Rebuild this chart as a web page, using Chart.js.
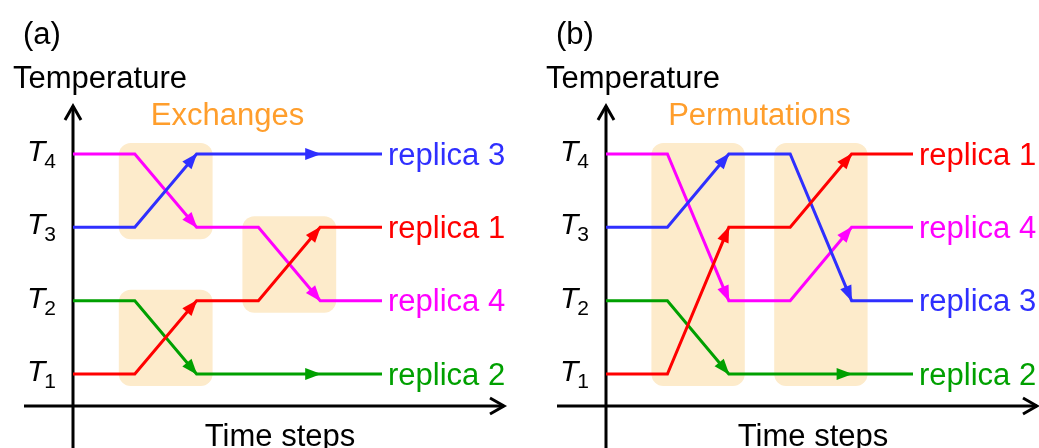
<!DOCTYPE html>
<html>
<head>
<meta charset="utf-8">
<script src="https://cdn.jsdelivr.net/npm/chart.js@4.4.1/dist/chart.umd.min.js"></script>
<style>
  html, body { margin: 0; padding: 0; background: #fff; }
  .row { display: flex; width: 1039px; height: 448px; }
  canvas { display: block; }
</style>
</head>
<body>
<div class="row">
  <canvas id="panelA" width="519" height="448"></canvas>
  <canvas id="panelB" width="520" height="448"></canvas>
</div>
<script>
const steps = [0, 1, 2, 3, 4, 5]
const levelNames = ['1', '2', '3', '4']

// temperature level held by each replica at every time step
const exchangeR1 = [1, 1, 2, 2, 3, 3]
const exchangeR2 = [2, 2, 1, 1, 1, 1]
const exchangeR3 = [3, 3, 4, 4, 4, 4]
const exchangeR4 = [4, 4, 3, 3, 2, 2]

const permuteR1 = [1, 1, 3, 3, 4, 4]
const permuteR2 = [2, 2, 1, 1, 1, 1]
const permuteR3 = [3, 3, 4, 4, 2, 2]
const permuteR4 = [4, 4, 2, 2, 3, 3]

// steps where an arrowhead marks the arrival
const arrowSteps = [2, 4]

// shaded swap windows: [fromStep, toStep, lowLevel, highLevel]
const exchangeBoxes = [[1, 2, 3, 4], [1, 2, 1, 2], [3, 4, 2, 3]]
const permuteBoxes = [[1, 2, 1, 4], [3, 4, 1, 4]]

const RED = '#ff0000'
const GREEN = '#00a000'
const BLUE = '#2f2fff'
const MAGENTA = '#ff00ff'
const ORANGE = '#ff9e2c'
const SHADE = '#fdebcb'
const FONT = '"Liberation Sans", Arial, sans-serif'

function roundRect(ctx, x, y, w, h, r) {
  ctx.beginPath()
  ctx.moveTo(x + r, y)
  ctx.arcTo(x + w, y, x + w, y + h, r)
  ctx.arcTo(x + w, y + h, x, y + h, r)
  ctx.arcTo(x, y + h, x, y, r)
  ctx.arcTo(x, y, x + w, y, r)
  ctx.closePath()
}

function arrowHead(ctx, fromX, fromY, toX, toY, color) {
  const ang = Math.atan2(toY - fromY, toX - fromX)
  const len = 15
  const half = 6
  ctx.save()
  ctx.translate(toX, toY)
  ctx.rotate(ang)
  ctx.fillStyle = color
  ctx.beginPath()
  ctx.moveTo(1, 0)
  ctx.lineTo(-len, -half)
  ctx.lineTo(-len, half)
  ctx.closePath()
  ctx.fill()
  ctx.restore()
}

function axisArrow(ctx, x1, y1, x2, y2) {
  const ang = Math.atan2(y2 - y1, x2 - x1)
  ctx.beginPath()
  ctx.moveTo(x1, y1)
  ctx.lineTo(x2, y2)
  ctx.stroke()
  ctx.save()
  ctx.translate(x2, y2)
  ctx.rotate(ang)
  ctx.beginPath()
  ctx.moveTo(-14, -8)
  ctx.lineTo(0, 0)
  ctx.lineTo(-14, 8)
  ctx.stroke()
  ctx.restore()
}

const replicaDiagram = {
  id: 'replicaDiagram',
  beforeDatasetsDraw(chart, _args, opts) {
    const { ctx, scales: { x, y } } = chart
    ctx.save()
    ctx.fillStyle = SHADE
    for (const [s0, s1, lo, hi] of opts.boxes) {
      const left = x.getPixelForValue(s0) - 16
      const right = x.getPixelForValue(s1) + 16
      const top = y.getPixelForValue(hi) - 11
      const bottom = y.getPixelForValue(lo) + 12
      roundRect(ctx, left, top, right - left, bottom - top, 12)
      ctx.fill()
    }

    // axes with open arrowheads
    const ox = x.getPixelForValue(0)
    const oy = y.getPixelForValue(1) + 32
    ctx.strokeStyle = '#000'
    ctx.lineWidth = 3
    ctx.lineCap = 'butt'
    axisArrow(ctx, ox, chart.height, ox, 106)
    axisArrow(ctx, ox - 49, oy, ox + 431, oy)
    ctx.restore()
  },
  afterDatasetsDraw(chart, _args, opts) {
    const { ctx, scales: { x, y } } = chart
    ctx.save()
    chart.data.datasets.forEach(ds => {
      for (const i of arrowSteps) {
        const a = ds.data[i - 1]
        const b = ds.data[i]
        arrowHead(ctx, x.getPixelForValue(a.x), y.getPixelForValue(a.y),
          x.getPixelForValue(b.x), y.getPixelForValue(b.y), ds.borderColor)
      }
      const last = ds.data[ds.data.length - 1]
      ctx.fillStyle = ds.borderColor
      ctx.font = '31px ' + FONT
      ctx.textBaseline = 'middle'
      ctx.textAlign = 'left'
      ctx.fillText(ds.label, x.getPixelForValue(last.x) + 6, y.getPixelForValue(last.y) + 2)
    })

    const ox = x.getPixelForValue(0)
    ctx.fillStyle = '#000'
    ctx.textBaseline = 'alphabetic'
    levelNames.forEach((name, i) => {
      const py = y.getPixelForValue(i + 1)
      ctx.font = 'italic 30px ' + FONT
      ctx.fillText('T', ox - 46, py + 7)
      const w = ctx.measureText('T').width
      ctx.font = '21px ' + FONT
      ctx.fillText(name, ox - 46 + w - 1, py + 14)
    })

    ctx.font = '31px ' + FONT
    ctx.fillText(opts.tag, ox - 50, 44)
    ctx.fillText('Temperature', ox - 60, 88)
    ctx.textAlign = 'center'
    ctx.fillText('Time steps', ox + 207, 446)

    // caption centred over the shaded windows
    const spanL = x.getPixelForValue(Math.min(...opts.boxes.map(b => b[0]))) - 16
    const spanR = x.getPixelForValue(Math.max(...opts.boxes.map(b => b[1]))) + 16
    ctx.fillStyle = ORANGE
    ctx.fillText(opts.caption, (spanL + spanR) / 2, 125)
    ctx.restore()
  },
}

function buildPanel(canvas, series, boxes, caption, tag, padding) {
  return new Chart(canvas, {
    type: 'line',
    data: {
      datasets: series.map(s => ({
        label: s.label,
        data: steps.map((st, i) => ({ x: st, y: s.values[i] })),
        borderColor: s.color,
        borderWidth: 3,
        pointRadius: 0,
        tension: 0,
        fill: false,
        clip: false,
      })),
    },
    options: {
      responsive: false,
      devicePixelRatio: 1,
      animation: false,
      layout: { padding },
      scales: {
        x: { type: 'linear', min: 0, max: 5, display: false },
        y: { type: 'linear', min: 1, max: 4, display: false },
      },
      plugins: {
        legend: { display: false },
        tooltip: { enabled: false },
        replicaDiagram: { boxes, caption, tag },
      },
    },
    plugins: [replicaDiagram],
  })
}

buildPanel(document.getElementById('panelA'), [
  { label: 'replica 1', values: exchangeR1, color: RED },
  { label: 'replica 3', values: exchangeR3, color: BLUE },
  { label: 'replica 4', values: exchangeR4, color: MAGENTA },
  { label: 'replica 2', values: exchangeR2, color: GREEN },
], exchangeBoxes, 'Exchanges', '(a)', { left: 73, right: 137, top: 154, bottom: 74 })

buildPanel(document.getElementById('panelB'), [
  { label: 'replica 1', values: permuteR1, color: RED },
  { label: 'replica 3', values: permuteR3, color: BLUE },
  { label: 'replica 4', values: permuteR4, color: MAGENTA },
  { label: 'replica 2', values: permuteR2, color: GREEN },
], permuteBoxes, 'Permutations', '(b)', { left: 87, right: 126, top: 154, bottom: 74 })
</script>
</body>
</html>
